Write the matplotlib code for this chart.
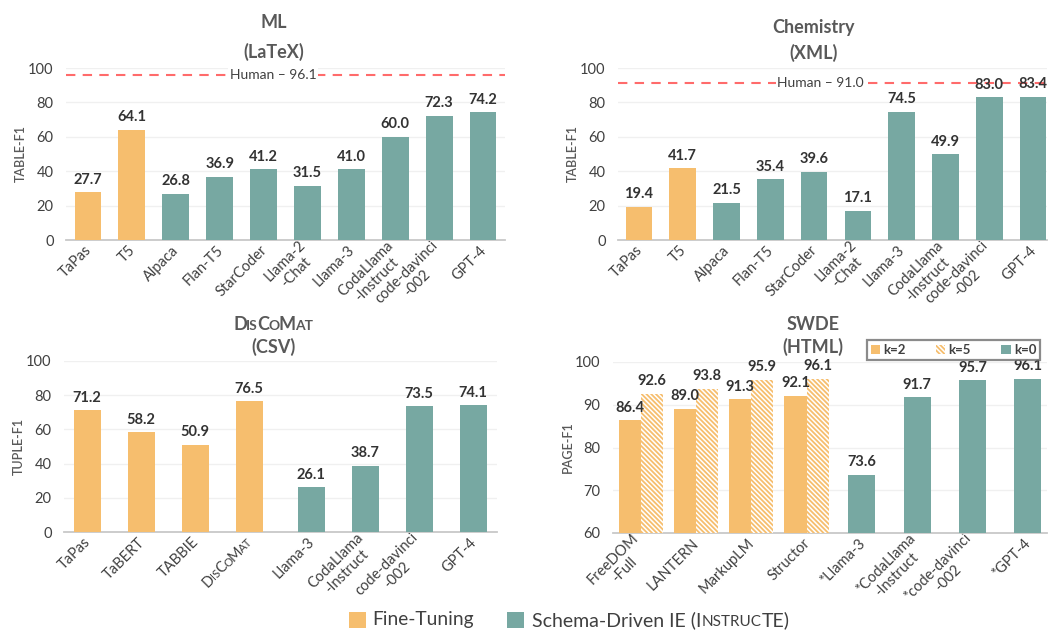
import matplotlib
matplotlib.use("Agg")
import matplotlib.pyplot as plt
from matplotlib.patches import Patch, Rectangle
from matplotlib.offsetbox import HPacker, TextArea, DrawingArea, AnnotationBbox
from matplotlib.font_manager import FontProperties
import numpy as np

plt.rcParams['font.family'] = ['Lato', 'DejaVu Sans']
plt.rcParams['hatch.linewidth'] = 1.3

ORANGE = '#F6BE6E'
TEAL = '#77A8A2'
TXT = '#404040'
TITLE_C = '#595959'
VAL_C = '#333333'

# ---------------- data ----------------
ml_labels = ['TaPas', 'T5', 'Alpaca', 'Flan-T5', 'StarCoder', 'Llama-2\n-Chat', 'Llama-3',
             'CodaLlama\n-Instruct', 'code-davinci\n-002', 'GPT-4']
ml_values = [27.7, 64.1, 26.8, 36.9, 41.2, 31.5, 41.0, 60.0, 72.3, 74.2]
ml_finetune = [True, True, False, False, False, False, False, False, False, False]
ml_human = 96.1

chem_labels = ml_labels
chem_values = [19.4, 41.7, 21.5, 35.4, 39.6, 17.1, 74.5, 49.9, 83.0, 83.4]
chem_finetune = ml_finetune
chem_human = 91.0

disco_labels = ['TaPas', 'TaBERT', 'TABBIE', '__DISCOMAT__', 'Llama-3', 'CodaLlama\n-Instruct',
                'code-davinci\n-002', 'GPT-4']
disco_values = [71.2, 58.2, 50.9, 76.5, 26.1, 38.7, 73.5, 74.1]
disco_finetune = [True, True, True, True, False, False, False, False]

swde_ft_labels = ['FreeDOM\n-Full', 'LANTERN', 'MarkupLM', 'Structor']
swde_k2 = [86.4, 89.0, 91.3, 92.1]
swde_k5 = [92.6, 93.8, 95.9, 96.1]
swde_zs_labels = ['*Llama-3', '*CodaLlama\n-Instruct', '*code-davinci\n-002', '*GPT-4']
swde_k0 = [73.6, 91.7, 95.7, 96.1]

fig = plt.figure(figsize=(10.55, 6.31), dpi=100)
W, H = 1055, 631
TICK_FS = 10.5
HATCH = '\\' * 7
SC_SEP = -0.6


def ax_at(x0, x1, y0, y1):
    return fig.add_axes([x0 / W, 1 - y1 / H, (x1 - x0) / W, (y1 - y0) / H])


def style(ax, ylim, yticks, ylabel):
    ax.set_ylim(*ylim)
    ax.set_yticks(yticks)
    for s in ['top', 'right', 'left']:
        ax.spines[s].set_visible(False)
    ax.spines['bottom'].set_color('#c8c8c8')
    ax.spines['bottom'].set_linewidth(1.3)
    ax.yaxis.grid(True, color='#f0f0f0', linewidth=1)
    ax.set_axisbelow(True)
    ax.tick_params(axis='both', length=0, labelsize=TICK_FS, colors=TXT)
    ax.tick_params(axis='y', pad=9)
    ax.set_ylabel(ylabel, fontsize=9, color=TITLE_C, fontweight='semibold', labelpad=1)


def set_xlabels(ax, pos, labels):
    ax.set_xticks(pos)
    ax.set_xticklabels(labels, rotation=45, ha='right', va='center_baseline',
                       rotation_mode='anchor', multialignment='center', fontsize=TICK_FS,
                       color=TXT, linespacing=1.15)
    ax.tick_params(axis='x', pad=5)


def value_labels(ax, xs, vals):
    for x, v in zip(xs, vals):
        ax.annotate(f'{v:.1f}', (x, v), xytext=(0, 4), textcoords='offset points',
                    ha='center', va='bottom', fontsize=10.5, fontweight='bold', color=VAL_C)


def titles(ax, fx, line1, line2, y1, y2):
    bb = ax.get_position()
    x = (bb.x0 + fx * bb.width)
    if line1 is not None:
        fig.text(x, 1 - y1 / H, line1, ha='center', va='center', fontsize=13,
                 fontweight='bold', color=TITLE_C)
    fig.text(x, 1 - y2 / H, line2, ha='center', va='center', fontsize=13,
             fontweight='bold', color=TITLE_C)
    return x


def human(ax, val):
    ax.axhline(val, color='#FF6B6B', linestyle=(0, (4.5, 3.5)), linewidth=1.5, zorder=1)
    ax.text(0.472, val, f'Human – {val:.1f}', transform=ax.get_yaxis_transform(),
            ha='center', va='center', fontsize=10, color=TXT,
            bbox=dict(facecolor='white', edgecolor='none', pad=1), zorder=2)


# ---------------- Panel 1: ML ----------------
ax1 = ax_at(66, 505, 68, 240)
x1 = np.arange(len(ml_values))
ax1.bar(x1, ml_values, width=0.61, color=[ORANGE if f else TEAL for f in ml_finetune], zorder=3)
ax1.set_xlim(-0.5, 9.5)
style(ax1, (0, 100), [0, 20, 40, 60, 80, 100], 'TABLE-F1')
set_xlabels(ax1, x1, ml_labels)
value_labels(ax1, x1, ml_values)
human(ax1, ml_human)
titles(ax1, 0.474, 'ML', '(LaTeX)', 22, 52)

# ---------------- Panel 2: Chemistry ----------------
ax2 = ax_at(618, 1047, 68, 240)
x2 = np.arange(len(chem_values))
ax2.bar(x2, chem_values, width=0.61, color=[ORANGE if f else TEAL for f in chem_finetune], zorder=3)
ax2.set_xlim(-0.48, 9.32)
style(ax2, (0, 100), [0, 20, 40, 60, 80, 100], 'TABLE-F1')
set_xlabels(ax2, x2, chem_labels)
value_labels(ax2, x2, chem_values)
human(ax2, chem_human)
titles(ax2, 0.455, 'Chemistry', '(XML)', 28, 53)

# ---------------- Panel 3: DisCoMat ----------------
ax3 = ax_at(64, 497, 361, 532)
x3 = np.array([0, 1, 2, 3, 4.15, 5.15, 6.15, 7.15])
ax3.bar(x3, disco_values, width=0.5, color=[ORANGE if f else TEAL for f in disco_finetune], zorder=3)
ax3.set_xlim(-0.43, 7.59)
style(ax3, (0, 100), [0, 20, 40, 60, 80, 100], 'TUPLE-F1')
set_xlabels(ax3, x3, [l if l != '__DISCOMAT__' else '' for l in disco_labels])
value_labels(ax3, x3, disco_values)
tx3 = titles(ax3, 0.483, None, '(CSV)', 325, 347)

disco_parts = [('D', False), ('IS', True), ('C', False), ('O', True), ('M', False), ('AT', True)]


def smallcaps_box(parts, big, small, weight, color):
    children = []
    for txt, is_small in parts:
        children.append(TextArea(txt, textprops=dict(fontsize=small if is_small else big,
                                                      fontweight=weight, color=color)))
    return HPacker(children=children, align='baseline', pad=0, sep=SC_SEP)


tbox = smallcaps_box(disco_parts, 13, 10, 'bold', TITLE_C)
ab = AnnotationBbox(tbox, (tx3, 1 - 325 / H), xycoords='figure fraction', frameon=False,
                    box_alignment=(0.5, 0.5), pad=0)
fig.add_artist(ab)

# rotated small-caps tick label for DisCoMat, aligned like the other tick labels
fig.canvas.draw()
renderer = fig.canvas.get_renderer()
SMALL_FS = TICK_FS * 0.78
piece_w = []
for txt, is_small in disco_parts:
    t = fig.text(0, 0, txt, fontsize=SMALL_FS if is_small else TICK_FS)
    piece_w.append(t.get_window_extent(renderer).width + SC_SEP)
    t.remove()
total = sum(piece_w)
ref_lab = ax3.get_xticklabels()[0]
ref_disp = ax3.transData.transform((x3[0], 0))
ref_pos = ref_lab.get_transform().transform(ref_lab.get_position())
tick_disp = ax3.transData.transform((x3[3], 0))
end = np.array([tick_disp[0] + (ref_pos[0] - ref_disp[0]), ref_pos[1]])
fp = FontProperties(family=['Lato', 'DejaVu Sans'], size=TICK_FS)
wlp, hlp, dlp = renderer.get_text_width_height_descent('lp', fp, ismath=False)
baseline = hlp - dlp
d = np.array([np.cos(np.pi / 4), np.sin(np.pi / 4)])
up = np.array([-np.sin(np.pi / 4), np.cos(np.pi / 4)])
cur = end - total * d - (baseline / 2) * up
for (txt, is_small), w in zip(disco_parts, piece_w):
    fig.text(cur[0] / W, cur[1] / H, txt, fontsize=SMALL_FS if is_small else TICK_FS, color=TXT,
             rotation=45, rotation_mode='anchor', ha='left', va='baseline')
    cur = cur + w * d

# ---------------- Panel 4: SWDE ----------------
ax4 = ax_at(613, 1047, 362, 533)
xg = np.arange(4)
bw = 0.4
ax4.bar(xg - bw / 2, swde_k2, width=bw, color=ORANGE, zorder=3)
ax4.bar(xg + bw / 2, swde_k5, width=bw, color='white', edgecolor=ORANGE, hatch=HATCH,
        linewidth=0, zorder=3)
xz = np.arange(4, 8)
ax4.bar(xz, swde_k0, width=0.49, color=TEAL, zorder=3)
ax4.set_xlim(-0.5, 7.35)
style(ax4, (60, 100), [60, 70, 80, 90, 100], 'PAGE-F1')
set_xlabels(ax4, np.concatenate([xg, xz]), swde_ft_labels + swde_zs_labels)
value_labels(ax4, xg - bw / 2, swde_k2)
value_labels(ax4, xg + bw / 2, swde_k5)
value_labels(ax4, xz, swde_k0)
titles(ax4, 0.461, 'SWDE', '(HTML)', 325, 347)

handles = [Patch(facecolor=ORANGE, edgecolor='none'),
           Patch(facecolor='white', edgecolor=ORANGE, hatch=HATCH, linewidth=0),
           Patch(facecolor=TEAL, edgecolor='none')]
leg = ax4.legend(handles, ['k=2', 'k=5', 'k=0'], ncol=3, loc='upper right',
                 bbox_to_anchor=(1.0, 1.165), frameon=True, fancybox=False,
                 handlelength=0.7, handleheight=0.7, handletextpad=0.25,
                 columnspacing=2.3, borderpad=0.3, prop=dict(size=9.5, weight='bold'))
leg.get_frame().set_edgecolor('#6e6e6e')
leg.get_frame().set_linewidth(1.6)
for t in leg.get_texts():
    t.set_color(TXT)

# ---------------- bottom legend ----------------
def square(c, s=12):
    da = DrawingArea(s, s, 0, 0)
    da.add_artist(Rectangle((0, 0), s, s, facecolor=c, edgecolor='none'))
    return da

lp = dict(fontsize=14, color=TXT)
ls = dict(fontsize=11, color=TXT)
box_a = HPacker(children=[square(ORANGE), TextArea('Fine-Tuning', textprops=dict(fontsize=13.8, color=TXT))],
                align='center', pad=0, sep=5)
box_b_text = HPacker(children=[TextArea('Schema-Driven IE (I', textprops=lp),
                               TextArea('NSTRUC', textprops=ls), TextArea('TE)', textprops=lp)],
                     align='baseline', pad=0, sep=0)
box_b = HPacker(children=[square(TEAL), box_b_text], align='center', pad=0, sep=6)
for bx, xl in [(box_a, 349), (box_b, 507)]:
    a = AnnotationBbox(bx, (xl / W, 1 - 620 / H), xycoords='figure fraction', frameon=False,
                       box_alignment=(0, 0.5), pad=0)
    fig.add_artist(a)

fig.savefig('out.png', dpi=100)
